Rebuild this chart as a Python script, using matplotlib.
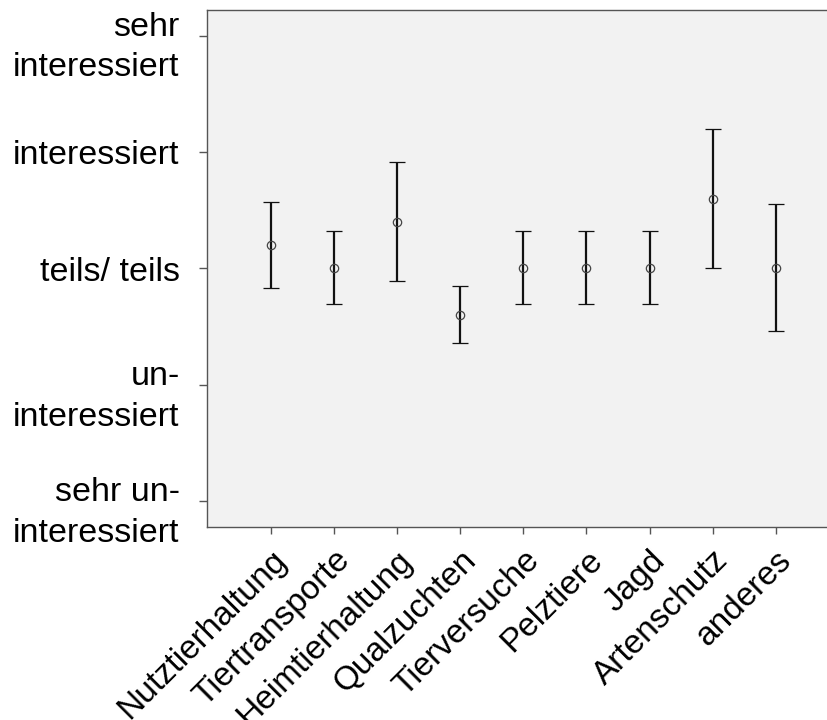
import matplotlib.pyplot as plt
import matplotlib.transforms as mtransforms

plt.rcParams['font.family'] = ['Liberation Sans', 'DejaVu Sans']

# Kategorien und Werte (Mittelwert mit Fehlerbalken)
categories = ['Nutztierhaltung', 'Tiertransporte', 'Heimtierhaltung', 'Qualzuchten',
              'Tierversuche', 'Pelztiere', 'Jagd', 'Artenschutz', 'anderes']
means = [3.2, 3.0, 3.4, 2.6, 3.0, 3.0, 3.0, 3.6, 3.0]
upper = [3.57, 3.32, 3.91, 2.85, 3.32, 3.32, 3.32, 4.20, 3.55]
lower = [2.83, 2.69, 2.89, 2.36, 2.69, 2.69, 2.69, 3.00, 2.46]

y_ticks = [1, 2, 3, 4, 5]
y_labels = ['sehr un-\ninteressiert', 'un-\ninteressiert', 'teils/ teils',
            'interessiert', 'sehr\ninteressiert']

fig = plt.figure(figsize=(8.28, 7.2), dpi=100)
ax = fig.add_axes([0.2504, 0.2685, 0.763, 0.7176])
ax.set_facecolor('#f2f2f2')

x = list(range(1, len(categories) + 1))
err_lo = [m - l for m, l in zip(means, lower)]
err_hi = [u - m for m, u in zip(means, upper)]
ax.errorbar(x, means, yerr=[err_lo, err_hi], fmt='o', color='#111111',
            ecolor='#111111', elinewidth=1.6, capsize=5.8, capthick=1.6,
            markersize=6, markerfacecolor='none', markeredgecolor='#444444',
            markeredgewidth=0.9)

ax.set_xlim(0, 10)
ax.set_ylim(0.78, 5.22)

ax.set_yticks(y_ticks)
ax.set_yticklabels(y_labels, fontsize=24.5, ha='right', va='center', linespacing=1.4)
ax.tick_params(axis='y', length=6, width=1.0, color='#555555', pad=14)

# zweizeilige Beschriftungen etwas nach unten schieben
for lab in ax.get_yticklabels():
    shift = 0.12 if '\n' in lab.get_text() else 0.04
    lab.set_transform(lab.get_transform() +
                      mtransforms.ScaledTranslation(0, -shift, fig.dpi_scale_trans))

ax.set_xticks(x)
ax.set_xticklabels(categories, fontsize=24, rotation=45, ha='right', va='top',
                   rotation_mode='anchor')
ax.tick_params(axis='x', length=5, width=1.0, color='#555555', pad=8)

for s in ax.spines.values():
    s.set_color('#555555')
    s.set_linewidth(1.0)

fig.savefig('out.png', dpi=100)
